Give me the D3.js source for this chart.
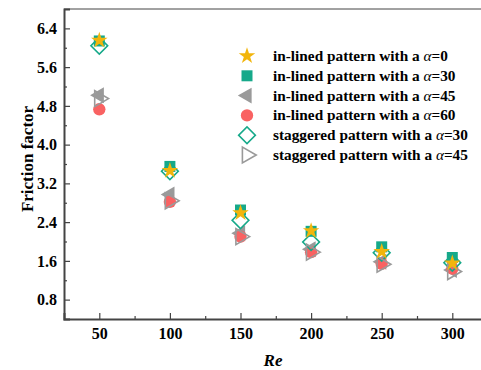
<!DOCTYPE html>
<html>
<head>
<meta charset="utf-8">
<script src="https://cdn.jsdelivr.net/npm/d3@7"></script>
<style>
  body { margin: 0; background: #fff; }
</style>
</head>
<body>
<div id="vis"></div>
<script>
const WIDTH = 481;
const HEIGHT = 370;
const FONT = "'Liberation Serif', 'Times New Roman', Times, serif";

const reValues = [50, 100, 150, 200, 250, 300];
const xTicks = [50, 100, 150, 200, 250, 300];
const yTicks = [0.8, 1.6, 2.4, 3.2, 4.0, 4.8, 5.6, 6.4];

const inlined0 = [6.15, 3.46, 2.59, 2.22, 1.79, 1.55];
const inlined30 = [6.14, 3.55, 2.65, 2.21, 1.89, 1.67];
const inlined45 = [5.02, 2.97, 2.17, 1.84, 1.58, 1.41];
const inlined60 = [4.73, 2.82, 2.10, 1.78, 1.54, 1.44];
const staggered30 = [6.04, 3.45, 2.44, 1.99, 1.77, 1.56];
const staggered45 = [4.95, 2.84, 2.10, 1.78, 1.53, 1.38];

const MARGIN = { left: 64, top: 9, bottom: 51 };

const svg = d3.select("#vis").append("svg")
    .attr("width", WIDTH)
    .attr("height", HEIGHT)
    .attr("font-family", FONT)
    .attr("font-weight", "bold");

const xScale = d3.scaleLinear().domain([25, 325]).range([MARGIN.left, 487.6]);
const yScale = d3.scaleLinear().domain([0.4, 6.8]).range([HEIGHT - MARGIN.bottom, MARGIN.top]);

const axisColor = "#444";

// marcos
svg.append("line")
    .attr("x1", MARGIN.left).attr("x2", WIDTH)
    .attr("y1", MARGIN.top).attr("y2", MARGIN.top)
    .attr("stroke", axisColor).attr("stroke-width", 1);

const ejeX = svg.append("g")
    .attr("transform", `translate(0, ${HEIGHT - MARGIN.bottom})`)
    .call(d3.axisBottom(xScale).tickValues(xTicks).tickSize(-6).tickPadding(9).tickFormat(d3.format("d")));
ejeX.attr("font-family", FONT).attr("font-size", 16);
ejeX.selectAll(".tick line").attr("stroke", axisColor).attr("stroke-width", 1.2);
ejeX.select(".domain").attr("stroke", axisColor).attr("stroke-width", 2);
ejeX.selectAll(".tick text").attr("fill", "#000");

const ejeXMinor = svg.append("g")
    .attr("transform", `translate(0, ${HEIGHT - MARGIN.bottom})`)
    .call(d3.axisBottom(xScale).tickValues([75, 125, 175, 225, 275]).tickSize(-3).tickFormat(""));
ejeXMinor.select(".domain").remove();
ejeXMinor.selectAll(".tick line").attr("stroke", axisColor).attr("stroke-width", 1.2);

const ejeY = svg.append("g")
    .attr("transform", `translate(${MARGIN.left}, 0)`)
    .call(d3.axisLeft(yScale).tickValues(yTicks).tickSize(-6).tickPadding(7).tickFormat(d3.format(".1f")));
ejeY.attr("font-family", FONT).attr("font-size", 16);
ejeY.selectAll(".tick line").attr("stroke", axisColor).attr("stroke-width", 1.2);
ejeY.select(".domain").attr("stroke", axisColor).attr("stroke-width", 2);
ejeY.selectAll(".tick text").attr("fill", "#000");

const ejeYMinor = svg.append("g")
    .attr("transform", `translate(${MARGIN.left}, 0)`)
    .call(d3.axisLeft(yScale).tickValues([1.2, 2.0, 2.8, 3.6, 4.4, 5.2, 6.0]).tickSize(-3).tickFormat(""));
ejeYMinor.select(".domain").remove();
ejeYMinor.selectAll(".tick line").attr("stroke", axisColor).attr("stroke-width", 1.2);

// titulos
svg.append("text")
    .text("Friction factor")
    .attr("text-anchor", "middle")
    .attr("transform", `translate(33, 159) rotate(270)`)
    .attr("font-size", 17);

svg.append("text")
    .text("Re")
    .attr("x", 273)
    .attr("y", 366)
    .attr("text-anchor", "middle")
    .attr("font-style", "italic")
    .attr("font-size", 17);

// simbolos
const tri = d3.symbol().type(d3.symbolTriangle).size(110)();
const series = [
    { name: "in-lined pattern with a ", alpha: "0", values: inlined0, path: d3.symbol().type(d3.symbolStar).size(85)(), rot: 0, fill: "#f2b50c", stroke: "none" },
    { name: "in-lined pattern with a ", alpha: "30", values: inlined30, path: d3.symbol().type(d3.symbolSquare).size(121)(), rot: 0, fill: "#16a98a", stroke: "none" },
    { name: "in-lined pattern with a ", alpha: "45", values: inlined45, path: tri, rot: -90, fill: "#9a9a9a", stroke: "none" },
    { name: "in-lined pattern with a ", alpha: "60", values: inlined60, path: d3.symbol().type(d3.symbolCircle).size(120)(), rot: 0, fill: "#f96262", stroke: "none" },
    { name: "staggered pattern with a ", alpha: "30", values: staggered30, path: d3.symbol().type(d3.symbolSquare).size(140)(), rot: 45, fill: "none", stroke: "#16a98a" },
    { name: "staggered pattern with a ", alpha: "45", values: staggered45, path: tri, rot: 90, fill: "none", stroke: "#9a9a9a" }
];

const drawOrder = [1, 2, 3, 4, 5, 0];
drawOrder.forEach(i => {
    const s = series[i];
    svg.append("g").selectAll("path")
        .data(s.values)
        .join("path")
        .attr("d", s.path)
        .attr("transform", (d, j) => `translate(${xScale(reValues[j])}, ${yScale(d)}) rotate(${s.rot})`)
        .attr("fill", s.fill)
        .attr("stroke", s.stroke)
        .attr("stroke-width", 1.6);
});

// leyenda
const legend = svg.append("g").attr("transform", "translate(247, 56)");
legend.selectAll("g")
    .data(series)
    .join("g")
    .attr("transform", (d, i) => `translate(0, ${i * 19.8})`)
    .each(function(d) {
        const g = d3.select(this);
        g.append("path")
            .attr("d", d.path)
            .attr("transform", `rotate(${d.rot})`)
            .attr("fill", d.fill)
            .attr("stroke", d.stroke)
            .attr("stroke-width", 1.6);
        const t = g.append("text")
            .attr("x", 26)
            .attr("y", 0)
            .attr("dy", "0.33em")
            .attr("font-size", 15.3);
        t.append("tspan").text(d.name);
        t.append("tspan").attr("font-style", "italic").attr("font-weight", "normal").text("α");
        t.append("tspan").text("=" + d.alpha);
    });
</script>
</body>
</html>
